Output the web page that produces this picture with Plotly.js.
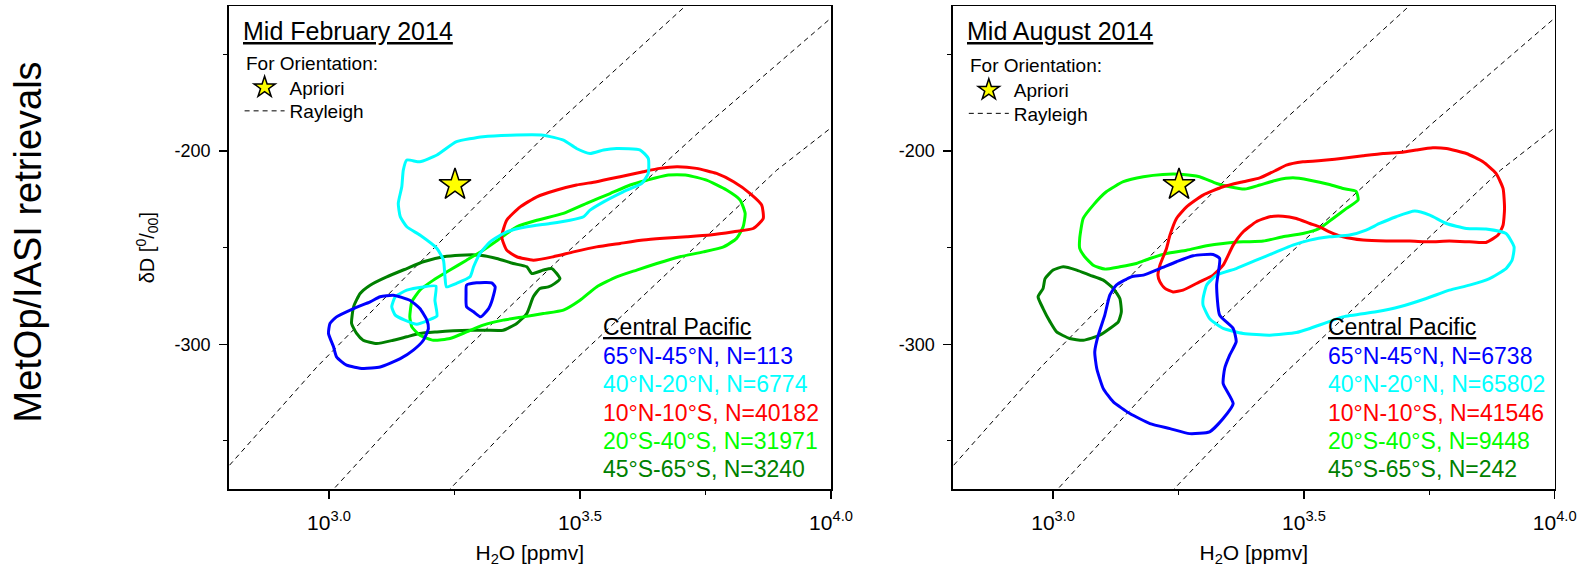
<!DOCTYPE html>
<html><head><meta charset="utf-8">
<script src="https://cdn.plot.ly/plotly-3.0.1.min.js"></script>
<style>html,body{margin:0;padding:0;background:#fff}#chart{width:1587px;height:570px}</style>
</head><body><div id="chart"></div>
<script>
// ---------------- DATA ----------------
const regions = ['65°N-45°N', '40°N-20°N', '10°N-10°S', '20°S-40°S', '45°S-65°S'];
const nFeb = [113, 6774, 40182, 31971, 3240];
const nAug = [6738, 65802, 41546, 9448, 242];
const panelTitles = ['Mid February 2014', 'Mid August 2014'];

const xTickExp = [3.0, 3.5, 4.0];
const xTickText = ['10<sup>3.0</sup>', '10<sup>3.5</sup>', '10<sup>4.0</sup>'];
const xMinorExp = [3.25, 3.75];
const yTickVals = [-200, -300];
const yTickText = ['-200', '-300'];
const yMinorVals = [-150, -250, -350];

// Apriori (log10 H2O [ppmv], dD [permil])
const aprioriLogH2O = [3.251];
const aprioriDD = [-217.5];

// Rayleigh lines (log10 H2O, dD)
const ray1Log = [2.790, 2.976, 3.215, 3.457, 3.707, 3.720];
const ray1DD  = [-366.0, -311.7, -248.7, -184.9, -125.7, -122.0];
const ray2Log = [3.000, 3.211, 3.450, 3.756, 4.010];
const ray2DD  = [-377.5, -317.7, -258.2, -185.7, -129.0];
const ray3Log = [3.235, 3.454, 3.892, 4.010];
const ray3DD  = [-376.5, -316.9, -209.9, -186.0];

// ---- Mid February 2014 contours ----
const febBlue1Log = [3.002,3.015,3.049,3.082,3.102,3.128,3.161,3.181,3.195,3.198,3.188,3.168,3.142,3.102,3.068,3.035,3.015,3.009,2.999];
const febBlue1DD  = [-289.2,-285.8,-281.5,-278.0,-275.4,-274.6,-277.2,-281.5,-287.5,-291.8,-297.9,-303.0,-307.4,-311.7,-312.5,-310.8,-306.5,-301.3,-294.4];
const febBlue2Log = [3.274,3.294,3.324,3.331,3.324,3.318,3.302,3.288,3.274,3.273];
const febBlue2DD  = [-269.4,-268.2,-268.2,-270.3,-278.0,-281.5,-285.8,-283.2,-280.6,-273.7];
const febCyan1Log = [3.155,3.181,3.215,3.254,3.307,3.361,3.427,3.467,3.493,3.520,3.547,3.573,3.620,3.636,3.636,3.623,3.586,3.547,3.520,3.507,3.480,3.440,3.394,3.354,3.321,3.301,3.288,3.281,3.254,3.234,3.231,3.228,3.215,3.181,3.155,3.142,3.138,3.145,3.148];
const febCyan1DD  = [-204.7,-205.6,-202.1,-195.2,-192.6,-191.8,-191.8,-194.4,-198.7,-201.3,-199.5,-198.7,-199.5,-203.8,-211.6,-216.8,-221.1,-226.3,-230.6,-234.0,-235.8,-237.5,-239.2,-241.8,-247.0,-253.0,-259.9,-265.1,-268.5,-270.3,-265.1,-256.5,-250.4,-243.5,-239.2,-234.0,-227.1,-218.5,-209.9];
const febCyan2Log = [3.125,3.132,3.155,3.188,3.213,3.211,3.215,3.198,3.175,3.151,3.132];
const febCyan2DD  = [-280.6,-275.4,-272.0,-270.3,-269.9,-277.2,-285.4,-287.5,-289.6,-287.5,-284.9];
const febRedLog = [3.344,3.354,3.381,3.414,3.454,3.493,3.533,3.580,3.626,3.659,3.693,3.732,3.772,3.806,3.839,3.862,3.865,3.845,3.806,3.759,3.713,3.666,3.626,3.580,3.533,3.487,3.447,3.407,3.374,3.354];
const febRedDD  = [-244.4,-235.8,-228.9,-223.7,-220.2,-217.6,-215.9,-213.3,-210.7,-209.0,-208.2,-209.0,-211.6,-215.9,-222.0,-228.0,-234.9,-240.1,-241.8,-243.5,-244.4,-245.2,-246.1,-247.8,-249.6,-252.2,-254.7,-256.5,-254.7,-251.3];
const febGreenLog = [3.161,3.165,3.181,3.208,3.241,3.274,3.307,3.341,3.374,3.414,3.467,3.513,3.560,3.600,3.633,3.673,3.713,3.752,3.792,3.819,3.829,3.825,3.812,3.786,3.746,3.699,3.653,3.613,3.573,3.533,3.500,3.467,3.427,3.387,3.347,3.307,3.274,3.241,3.208,3.181,3.165];
const febGreenDD  = [-285.8,-278.0,-272.0,-266.8,-261.6,-256.5,-251.3,-245.2,-239.2,-235.8,-232.3,-227.1,-222.0,-217.6,-215.1,-212.5,-212.5,-215.1,-220.2,-225.4,-232.3,-239.2,-245.2,-249.6,-252.2,-254.7,-258.2,-261.6,-265.1,-270.3,-277.2,-282.3,-284.1,-285.8,-287.5,-290.1,-293.6,-297.0,-297.9,-295.3,-291.0];
const febDkGreenLog = [3.045,3.049,3.062,3.082,3.115,3.155,3.188,3.228,3.261,3.301,3.334,3.367,3.394,3.404,3.427,3.444,3.460,3.450,3.437,3.420,3.407,3.394,3.374,3.347,3.314,3.281,3.248,3.215,3.181,3.155,3.128,3.095,3.068,3.055];
const febDkGreenDD  = [-289.2,-280.6,-273.7,-269.4,-265.1,-260.8,-257.3,-254.7,-253.9,-253.9,-255.6,-258.2,-259.9,-263.4,-261.6,-260.8,-266.0,-268.5,-270.3,-271.1,-275.4,-284.1,-289.2,-292.7,-292.7,-292.7,-293.0,-293.6,-294.4,-296.1,-297.9,-299.6,-297.9,-294.4];

// ---- Mid August 2014 contours ----
const augBlueLog = [3.332,3.326,3.332,3.359,3.365,3.352,3.342,3.339,3.359,3.339,3.312,3.272,3.233,3.193,3.153,3.120,3.100,3.087,3.083,3.090,3.103,3.113,3.126,3.156,3.180,3.213,3.246,3.279,3.319];
const augBlueDD  = [-255.6,-269.4,-284.9,-291.8,-298.7,-305.6,-312.5,-320.3,-330.7,-338.4,-345.3,-346.2,-343.6,-341.0,-335.8,-329.8,-322.9,-312.5,-303.9,-295.3,-284.9,-274.6,-269.4,-265.1,-264.2,-260.8,-257.3,-254.2,-253.5];
const augCyanLog = [3.299,3.306,3.326,3.365,3.405,3.445,3.478,3.512,3.551,3.591,3.624,3.651,3.684,3.721,3.751,3.784,3.824,3.863,3.903,3.919,3.915,3.903,3.870,3.830,3.790,3.744,3.691,3.644,3.578,3.512,3.485,3.432,3.379,3.339,3.312,3.299];
const augCyanDD  = [-276.3,-269.4,-264.2,-260.8,-256.5,-252.2,-248.7,-246.1,-244.4,-243.5,-240.9,-237.5,-234.0,-231.1,-233.2,-237.5,-240.1,-240.4,-242.7,-249.6,-256.5,-260.8,-266.0,-269.4,-272.0,-276.3,-280.6,-283.2,-285.8,-291.8,-293.9,-295.3,-294.4,-291.8,-286.7,-279.8];
const augRedLog = [3.213,3.209,3.213,3.226,3.233,3.246,3.266,3.299,3.339,3.379,3.412,3.445,3.465,3.498,3.545,3.578,3.618,3.658,3.697,3.724,3.757,3.784,3.824,3.857,3.883,3.897,3.900,3.897,3.887,3.863,3.830,3.790,3.751,3.711,3.664,3.618,3.578,3.551,3.531,3.512,3.485,3.458,3.432,3.405,3.379,3.359,3.339,3.319,3.292,3.259,3.239,3.223];
const augRedDD  = [-267.7,-264.2,-259.1,-250.4,-243.5,-234.9,-228.9,-222.8,-218.5,-215.9,-213.9,-209.9,-207.3,-205.6,-204.7,-203.8,-202.5,-201.3,-200.7,-199.5,-198.3,-198.7,-201.3,-205.6,-211.6,-219.4,-229.7,-238.4,-243.5,-247.3,-247.0,-246.6,-247.0,-246.6,-246.6,-246.1,-244.4,-241.8,-239.2,-237.5,-234.9,-233.7,-234.0,-236.6,-241.8,-248.7,-259.1,-264.2,-267.7,-272.0,-272.9,-271.1];
const augGreenLog = [3.053,3.060,3.080,3.106,3.140,3.180,3.219,3.259,3.292,3.326,3.352,3.382,3.412,3.445,3.478,3.512,3.551,3.578,3.604,3.608,3.585,3.558,3.531,3.498,3.458,3.419,3.379,3.339,3.306,3.266,3.226,3.193,3.166,3.133,3.103,3.080,3.063,3.053];
const augGreenDD  = [-245.3,-234.9,-228.0,-221.1,-215.9,-213.3,-212.1,-212.1,-213.3,-216.8,-218.5,-219.7,-217.6,-215.1,-213.9,-215.1,-217.3,-219.4,-220.8,-225.4,-229.7,-234.9,-240.1,-242.7,-244.4,-246.6,-247.0,-247.8,-249.0,-251.3,-253.0,-255.6,-258.2,-259.9,-261.1,-259.1,-254.7,-250.4];
const augDkGreenLog = [2.970,2.980,2.984,3.000,3.020,3.047,3.073,3.100,3.120,3.133,3.136,3.130,3.113,3.093,3.060,3.033,3.007,2.994,2.980];
const augDkGreenDD  = [-275.4,-271.1,-266.0,-261.6,-259.9,-261.6,-264.2,-266.8,-271.1,-276.3,-283.2,-288.4,-291.8,-295.3,-297.9,-297.0,-293.6,-288.4,-281.5];

// ---------------- STYLE / BUILD ----------------
const FONT = 'Liberation Sans, Arial, Helvetica, sans-serif';
const W = 1587, H = 570;
const px = v => v / W, py = v => 1 - v / H;
const regionColors = ['#0000FF', '#00FFFF', '#FF0000', '#00FF00', '#008000'];
const toPPMV = a => a.map(v => Math.pow(10, v));
const closeLoop = a => a.concat([a[0]]);

const febContours = [
  [febDkGreenLog, febDkGreenDD, 4], [febGreenLog, febGreenDD, 3], [febRedLog, febRedDD, 2],
  [febCyan1Log, febCyan1DD, 1], [febCyan2Log, febCyan2DD, 1],
  [febBlue1Log, febBlue1DD, 0], [febBlue2Log, febBlue2DD, 0]
];
const augContours = [
  [augDkGreenLog, augDkGreenDD, 4], [augGreenLog, augGreenDD, 3], [augRedLog, augRedDD, 2],
  [augCyanLog, augCyanDD, 1], [augBlueLog, augBlueDD, 0]
];

const traces = [];
function addPanel(xa, ya, starLegend, rayLegend, contours) {
  [[ray1Log, ray1DD], [ray2Log, ray2DD], [ray3Log, ray3DD]].forEach((r, i) => {
    traces.push({
      type: 'scatter', mode: 'lines', xaxis: xa, yaxis: ya,
      x: toPPMV(r[0]), y: r[1], name: 'Rayleigh', legend: rayLegend,
      showlegend: i === 0, legendgroup: 'ray' + rayLegend,
      line: {color: '#000', width: 1, dash: '5px,4px'}, hoverinfo: 'skip'
    });
  });
  contours.forEach(c => {
    traces.push({
      type: 'scatter', mode: 'lines', xaxis: xa, yaxis: ya,
      x: toPPMV(closeLoop(c[0])), y: closeLoop(c[1]), showlegend: false,
      line: {color: regionColors[c[2]], width: 3, shape: 'spline', smoothing: 0.5}, hoverinfo: 'skip'
    });
  });
  traces.push({
    type: 'scatter', mode: 'markers', xaxis: xa, yaxis: ya,
    x: toPPMV(aprioriLogH2O), y: aprioriDD, name: 'Apriori', legend: starLegend,
    marker: {symbol: 'star', size: 24, color: '#FFFF00', line: {color: '#000', width: 1.5}},
    hoverinfo: 'skip'
  });
}
addPanel('x', 'y', 'legend', 'legend3', febContours);
addPanel('x2', 'y2', 'legend2', 'legend4', augContours);

function xAxis(domain, anchor) {
  return {
    domain: domain, anchor: anchor, type: 'log', range: [2.8, 4.0], autorange: false,
    showline: true, linecolor: '#000', linewidth: 1.5, mirror: true,
    ticks: 'outside', ticklen: 8, tickwidth: 1.5, tickcolor: '#000',
    tickmode: 'array', tickvals: toPPMV(xTickExp), ticktext: xTickText,
    tickfont: {family: FONT, size: 21, color: '#000'}, ticklabelstandoff: 6,
    minor: {tickmode: 'array', tickvals: toPPMV(xMinorExp), ticks: 'outside', ticklen: 4, tickwidth: 1, tickcolor: '#000', showgrid: false},
    showgrid: false, zeroline: false,
    title: {text: 'H<sub>2</sub>O [ppmv]', font: {family: FONT, size: 21, color: '#000'}, standoff: 12}
  };
}
function yAxis(domain, anchor, withTitle) {
  return {
    domain: domain, anchor: anchor, range: [-375, -125], autorange: false,
    showline: true, linecolor: '#000', linewidth: 1.5, mirror: true,
    ticks: 'outside', ticklen: 8, tickwidth: 1.5, tickcolor: '#000',
    tickmode: 'array', tickvals: yTickVals, ticktext: yTickText,
    tickfont: {family: FONT, size: 18, color: '#000'}, ticklabelstandoff: 5,
    minor: {tickmode: 'array', tickvals: yMinorVals, ticks: 'outside', ticklen: 4, tickwidth: 1, tickcolor: '#000', showgrid: false},
    showgrid: false, zeroline: false,
    title: withTitle ? {text: 'δD [<sup>0</sup>/<sub>00</sub>]', font: {family: FONT, size: 20, color: '#000'}, standoff: 14} : {text: ''}
  };
}
const yDom = [1 - 489.3 / H, 1 - 6 / H];

const annotations = [];
function ann(text, x, y, size, color, extra) {
  annotations.push(Object.assign({
    text: text, xref: 'paper', yref: 'paper', x: px(x), y: py(y), xanchor: 'left', yanchor: 'middle',
    showarrow: false, font: {family: FONT, size: size, color: color || '#000'}
  }, extra || {}));
}
const panels = [
  {left: 228.6, n: nFeb, title: panelTitles[0], dy: 0},
  {left: 952.8, n: nAug, title: panelTitles[1], dy: 2}
];
panels.forEach(p => {
  ann('<u>' + p.title + '</u>', p.left + 12, 31, 25);
  ann('For Orientation:', p.left + 15.5, 63.5 + p.dy, 19);
  ann('<u>Central Pacific</u>', p.left + 372.8, 326.5, 23);
  regions.forEach((r, i) => {
    ann(r + ', N=' + p.n[i], p.left + 372.8, 356 + i * 28.3, 23, regionColors[i]);
  });
});
ann('MetOp/IASI retrievals', 27.5, 242, 38, '#000', {xanchor: 'center', textangle: -90});

const legendBase = {
  yanchor: 'top', xanchor: 'left', bgcolor: 'rgba(0,0,0,0)', borderwidth: 0,
  font: {family: FONT, size: 19, color: '#000'}, itemwidth: 40, tracegroupgap: 0
};
const leg = (x, y) => Object.assign({}, legendBase, {x: px(x), y: py(y)});

const layout = {
  width: W, height: H, margin: {l: 0, r: 0, t: 0, b: 0},
  paper_bgcolor: '#fff', plot_bgcolor: '#fff',
  font: {family: FONT, color: '#000'},
  xaxis: xAxis([228.6 / W, 831.0 / W], 'y'),
  yaxis: yAxis(yDom, 'x', true),
  xaxis2: xAxis([952.8 / W, 1554.7 / W], 'y2'),
  yaxis2: yAxis(yDom, 'x2', false),
  legend: leg(228.6 + 15.5 - 4.5, 68.5),
  legend3: leg(228.6 + 15.5 - 4.5, 92),
  legend2: leg(952.8 + 15.5 - 4.5, 71),
  legend4: leg(952.8 + 15.5 - 4.5, 94.5),
  annotations: annotations,
  showlegend: true
};

Plotly.newPlot('chart', traces, layout, {staticPlot: true});
</script>
</body></html>
